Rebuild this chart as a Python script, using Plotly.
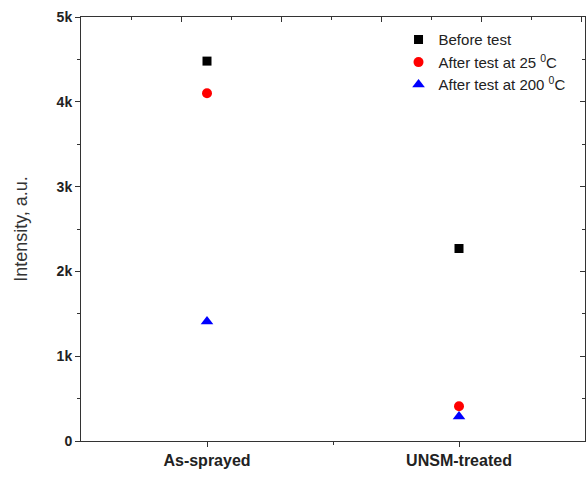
import plotly.graph_objects as go

categories = ["As-sprayed", "UNSM-treated"]
before_test = [4480, 2270]
after_25 = [4100, 410]
after_200 = [1410, 290]
series_names = ["Before test", "After test at 25 <sup>0</sup>C", "After test at 200 <sup>0</sup>C"]
y_tick_vals = [0, 1000, 2000, 3000, 4000, 5000]
y_tick_text = ["0", "1k", "2k", "3k", "4k", "5k"]

xpos = list(range(len(categories)))
FONT = "Liberation Sans, Arial, sans-serif"
AX = "#333333"

fig = go.Figure()
styles = [
    dict(symbol="square", color="black", size=9),
    dict(symbol="circle", color="red", size=10),
    dict(symbol="triangle-up", color="blue", size=11),
]
for i, (name, vals, st) in enumerate(zip(series_names, [before_test, after_25, after_200], styles)):
    fig.add_trace(go.Scatter(
        x=xpos, y=vals, mode="markers", name=name, legendgroup=f"g{i}",
        marker=dict(symbol=st["symbol"], color=st["color"], size=st["size"], line=dict(width=0)),
    ))

fig.update_layout(
    width=586, height=477,
    margin=dict(l=81, r=1, t=17, b=36),
    plot_bgcolor="white", paper_bgcolor="white",
    font=dict(family=FONT, color="#222222"),
    showlegend=True,
    legend=dict(x=0.63, y=0.985, xanchor="left", yanchor="top",
                bgcolor="rgba(0,0,0,0)", font=dict(size=15, family=FONT, color="#222222"),
                tracegroupgap=0, itemwidth=30),
    xaxis=dict(
        range=[-0.5, 1.5], tickvals=xpos, ticktext=[f"<b>{c}</b>" for c in categories],
        ticks="outside", ticklen=5, tickwidth=1, tickcolor=AX,
        minor=dict(tickvals=[0.5], ticks="outside", ticklen=3, tickwidth=1, tickcolor=AX, showgrid=False),
        showline=True, linecolor=AX, linewidth=1, showgrid=False, zeroline=False,
        tickfont=dict(size=16, color="#222222"),
    ),
    yaxis=dict(
        range=[0, 5000], tickvals=y_tick_vals, ticktext=[f"<b>{t}</b>" for t in y_tick_text],
        ticks="outside", ticklen=5, tickwidth=1, tickcolor=AX,
        minor=dict(tickvals=[500, 1500, 2500, 3500, 4500], ticks="outside", ticklen=3, tickwidth=1, tickcolor=AX, showgrid=False),
        showline=True, linecolor=AX, linewidth=1, showgrid=False, zeroline=False,
        tickfont=dict(size=14, color="#222222"),
        title=dict(text="Intensity, a.u.", font=dict(size=18, color="#333333"), standoff=24),
    ),
    xaxis2=dict(
        overlaying="x", side="top", range=[0, 5.03], tickvals=[1, 2, 3, 4, 5],
        ticks="inside", ticklen=5, tickwidth=1, tickcolor=AX, showticklabels=False,
        minor=dict(tickvals=[0.5, 1.5, 2.5, 3.5, 4.5], ticks="inside", ticklen=3, tickwidth=1, tickcolor=AX, showgrid=False),
        showline=True, linecolor=AX, linewidth=1, showgrid=False, zeroline=False,
    ),
    yaxis2=dict(
        overlaying="y", side="right", range=[0, 5000], tickvals=[1000, 2000, 3000, 4000],
        ticks="inside", ticklen=5, tickwidth=1, tickcolor=AX, showticklabels=False,
        minor=dict(tickvals=[500, 1500, 2500, 3500, 4500], ticks="inside", ticklen=3, tickwidth=1, tickcolor=AX, showgrid=False),
        showline=True, linecolor=AX, linewidth=1, showgrid=False, zeroline=False,
    ),
)
fig.add_trace(go.Scatter(x=[-1], y=[-1], xaxis="x2", yaxis="y2", mode="markers",
                         marker=dict(opacity=0), showlegend=False, hoverinfo="skip"))

fig.write_html("out.html")
